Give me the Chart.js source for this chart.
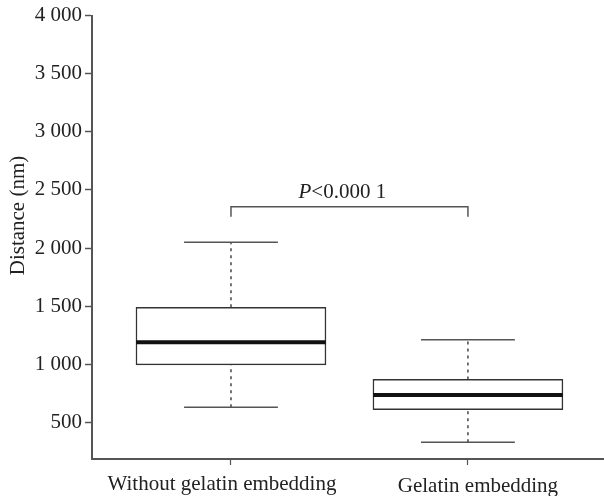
<!DOCTYPE html>
<html>
<head>
<meta charset="utf-8">
<script src="https://cdn.jsdelivr.net/npm/chart.js@4/dist/chart.umd.min.js"></script>
<style>
html,body{margin:0;padding:0;background:#fff;}
#wrap{width:604px;height:496px;position:relative;}
</style>
</head>
<body>
<div id="wrap"><canvas id="c" width="604" height="496"></canvas></div>
<script>
// ---- data ----
const categories = ['Without gelatin embedding', 'Gelatin embedding'];
const whiskerMin = [630, 330];
const q1 = [995, 610];
const median = [1190, 735];
const q3 = [1490, 870];
const whiskerMax = [2050, 1210];
const yTicks = [500, 1000, 1500, 2000, 2500, 3000, 3500, 4000];
const yTitle = 'Distance (nm)';
const bracketValues = [2270, 2356];   // leg bottom, bracket top
const pLabelItalic = 'P';
const pLabelRest = '<0.000 1';

const FONT = "'Liberation Serif', 'Times New Roman', serif";
const boxHalf = 0.4, capHalf = 0.198;
const labelDx = [-9, 10], labelBaseline = [490, 492];

const pos = categories.map((c, i) => i + 1);
const boxData = pos.map((x, i) => ({x: x, y: [q1[i], q3[i]]}));
const medianData = pos.flatMap((x, i) => [{x: x - boxHalf, y: median[i]}, {x: x + boxHalf, y: median[i]}, {x: x, y: null}]);
const whiskerData = pos.flatMap((x, i) => [
  {x: x, y: q3[i]}, {x: x, y: whiskerMax[i]}, {x: x + 0.01, y: null},
  {x: x, y: whiskerMin[i]}, {x: x, y: q1[i]}, {x: x + 0.02, y: null}]);
const capData = pos.flatMap((x, i) => [
  {x: x - capHalf, y: whiskerMax[i]}, {x: x + capHalf, y: whiskerMax[i]}, {x: x, y: null},
  {x: x - capHalf, y: whiskerMin[i]}, {x: x + capHalf, y: whiskerMin[i]}, {x: x, y: null}]);
const bracketData = [{x: pos[0], y: bracketValues[0]}, {x: pos[0], y: bracketValues[1]},
                     {x: pos[1], y: bracketValues[1]}, {x: pos[1], y: bracketValues[0]}];

function fmt(v) { return String(v).replace(/\B(?=(\d{3})+(?!\d))/g, ' '); }

const textPlugin = {
  id: 'texts',
  afterDatasetsDraw(chart) {
    const ctx = chart.ctx, xs = chart.scales.x, ys = chart.scales.y;
    ctx.save();
    ctx.fillStyle = '#222';
    // p-value label
    const cx = xs.getPixelForValue(1.47);
    const y = ys.getPixelForValue(bracketValues[1]) - 9;
    ctx.textBaseline = 'alphabetic';
    ctx.textAlign = 'left';
    ctx.font = 'italic 21px ' + FONT;
    const w1 = ctx.measureText(pLabelItalic).width;
    ctx.font = '21px ' + FONT;
    const w2 = ctx.measureText(pLabelRest).width;
    const x0 = cx - (w1 + w2) / 2;
    ctx.font = 'italic 21px ' + FONT;
    ctx.fillText(pLabelItalic, x0, y);
    ctx.font = '21px ' + FONT;
    ctx.fillText(pLabelRest, x0 + w1, y);
    // category labels
    ctx.textAlign = 'center';
    categories.forEach((c, i) => {
      ctx.fillText(c, xs.getPixelForValue(pos[i]) + labelDx[i], labelBaseline[i]);
    });
    // y title
    ctx.translate(18.5, ys.getPixelForValue(2280));
    ctx.rotate(-Math.PI / 2);
    ctx.textBaseline = 'middle';
    ctx.fillText(yTitle, 0, 0);
    ctx.restore();
  }
};

const lineBase = {type: 'line', pointRadius: 0, pointHoverRadius: 0, fill: false, spanGaps: false, tension: 0};

new Chart(document.getElementById('c'), {
  type: 'bar',
  data: {
    datasets: [
      {type: 'bar', data: boxData, backgroundColor: '#fff', borderColor: '#333', borderWidth: 1.5,
       borderSkipped: false, barThickness: 190, order: 10},
      Object.assign({}, lineBase, {data: whiskerData, borderColor: '#444', borderWidth: 1.5, borderDash: [3, 4], order: 12}),
      Object.assign({}, lineBase, {data: capData, borderColor: '#555', borderWidth: 1.5, order: 3}),
      Object.assign({}, lineBase, {data: medianData, borderColor: '#111', borderWidth: 4, order: 1}),
      Object.assign({}, lineBase, {data: bracketData, borderColor: '#555', borderWidth: 1.5, order: 2})
    ]
  },
  options: {
    responsive: false,
    animation: false,
    events: [],
    layout: {padding: {top: 14, right: 1, left: 0, bottom: 0}},
    plugins: {legend: {display: false}, tooltip: {enabled: false}},
    scales: {
      x: {
        type: 'linear',
        offset: false,
        min: 0.4135, max: 2.57,
        afterBuildTicks: (s) => { s.ticks = pos.map(v => ({value: v})); },
        afterFit: (s) => { s.height = 37; },
        grid: {offset: false, drawOnChartArea: false, drawTicks: true, tickLength: 6, color: '#555', tickWidth: 1.2},
        border: {display: true, color: '#555', width: 2},
        ticks: {display: false}
      },
      y: {
        type: 'linear',
        min: 185, max: 4000,
        afterBuildTicks: (s) => { s.ticks = yTicks.map(v => ({value: v})); },
        afterFit: (s) => { s.width = 92; },
        grid: {drawOnChartArea: false, drawTicks: true, tickLength: 7, color: '#555', tickWidth: 1.5},
        border: {display: true, color: '#555', width: 2},
        title: {display: false},
        ticks: {padding: 3, color: '#222', font: {family: FONT, size: 21}, callback: (v) => fmt(v)}
      }
    }
  },
  plugins: [textPlugin]
});
</script>
</body>
</html>
